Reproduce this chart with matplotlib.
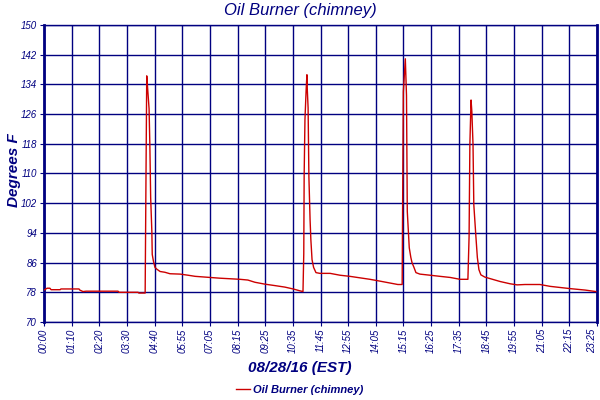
import matplotlib
matplotlib.use("Agg")
import matplotlib.pyplot as plt
import numpy as np

# minutes since midnight
minutes = [0, 8, 15, 18, 41, 43, 89, 91, 99, 107, 109, 188, 191, 239, 241, 257,
           259, 261, 263, 267, 269, 271, 274, 275, 278, 282, 287, 295, 307, 320,
           346, 366, 384, 409, 447, 498, 518, 536, 561, 587, 612, 633, 650, 658,
           660, 661, 663, 666, 668, 669, 671, 673, 676, 678, 681, 685, 691, 701,
           727, 752, 777, 828, 854, 879, 899, 910,
           911, 913, 918, 921, 923, 928, 932, 935, 940, 945, 955, 981, 1006, 1032,
           1057, 1077,
           1080, 1082, 1085, 1087, 1090, 1092, 1097, 1101, 1105, 1110, 1120, 1133,
           1159, 1184, 1202, 1222, 1260, 1286, 1311, 1336, 1375, 1402]
temps = [78.6, 79.1, 79.1, 78.7, 78.7, 78.9, 78.9, 78.6, 78.2, 78.3, 78.3, 78.3, 78.0, 78.0, 77.8, 77.8,
         107.3, 136.3, 133.4, 127.4, 117.3, 103.5, 94.4, 88.2, 86.4, 84.7, 84.2, 83.6, 83.4, 83.0,
         82.9, 82.6, 82.3, 82.1, 81.8, 81.5, 81.3, 80.7, 80.2, 79.8, 79.4, 78.9, 78.4, 78.2,
         88.4, 109.7, 124.5, 132.5, 136.6, 132.5, 127.7, 109.2, 97.6, 92.2, 86.8, 84.7, 83.3, 83.1,
         83.1, 82.6, 82.3, 81.5, 81.0, 80.5, 80.1, 80.1,
         99.0, 132.0, 140.9, 131.0, 99.8, 90.0, 87.4, 86.0, 84.7, 83.3, 82.9, 82.6, 82.3, 82.0,
         81.5, 81.5,
         93.0, 117.8, 129.8, 126.7, 117.8, 101.6, 93.5, 87.4, 84.1, 82.7, 82.1, 81.7,
         80.9, 80.3, 80.0, 80.1, 80.1, 79.6, 79.3, 79.0, 78.6, 78.2]

tick_labels = ["00:00", "01:10", "02:20", "03:30", "04:40", "05:55", "07:05", "08:15",
               "09:25", "10:35", "11:45", "12:55", "14:05", "15:15", "16:25", "17:35",
               "18:45", "19:55", "21:05", "22:15", "23:25"]
y_ticks = [70, 78, 86, 94, 102, 110, 118, 126, 134, 142, 150]

navy = "#000080"
plt.rcParams["font.family"] = ["Liberation Sans", "DejaVu Sans"]

fig = plt.figure(figsize=(6, 4), dpi=100)
ax = fig.add_axes([44 / 600, 1 - 322 / 400, 553 / 600, 297 / 400])

ax.plot(minutes, temps, color="#cc0000", linewidth=1.0, label="Oil Burner (chimney)", zorder=3)

ax.set_xlim(0, 1405)
ax.set_ylim(70, 150)
ax.set_xticks(np.linspace(0, 1405, len(tick_labels)))
ax.set_xticklabels(tick_labels, rotation=90)
ax.set_yticks(y_ticks)
ax.grid(True, color=navy, linewidth=1.0)
ax.set_axisbelow(True)
ax.tick_params(length=3, color=navy, labelcolor=navy, labelsize=7, pad=2)
for lab in ax.get_xticklabels() + ax.get_yticklabels():
    lab.set_style("italic")
ax.get_xticklabels()[-1].set_horizontalalignment("right")
for s in ax.spines.values():
    s.set_color(navy)
    s.set_linewidth(1.0)
ax.spines["left"].set_linewidth(2.0)
ax.spines["right"].set_linewidth(2.0)

fig.text(0.5, 1 - 10 / 400, "Oil Burner (chimney)", ha="center", va="center",
         color=navy, fontsize=12, style="italic")
fig.text(14 / 600, 1 - 170 / 400, "Degrees F", ha="center", va="center", rotation=90,
         color=navy, fontsize=11, style="italic", weight="bold")
fig.text(0.5, 1 - 368 / 400, "08/28/16 (EST)", ha="center", va="center",
         color=navy, fontsize=11, style="italic", weight="bold")

leg = fig.legend(loc="center", bbox_to_anchor=(0.5, 1 - 390 / 400), frameon=False,
                 handlelength=1.2, handletextpad=0.3,
                 prop={"style": "italic", "weight": "bold", "size": 8})
for t in leg.get_texts():
    t.set_color(navy)

fig.savefig("out.png", dpi=100)
